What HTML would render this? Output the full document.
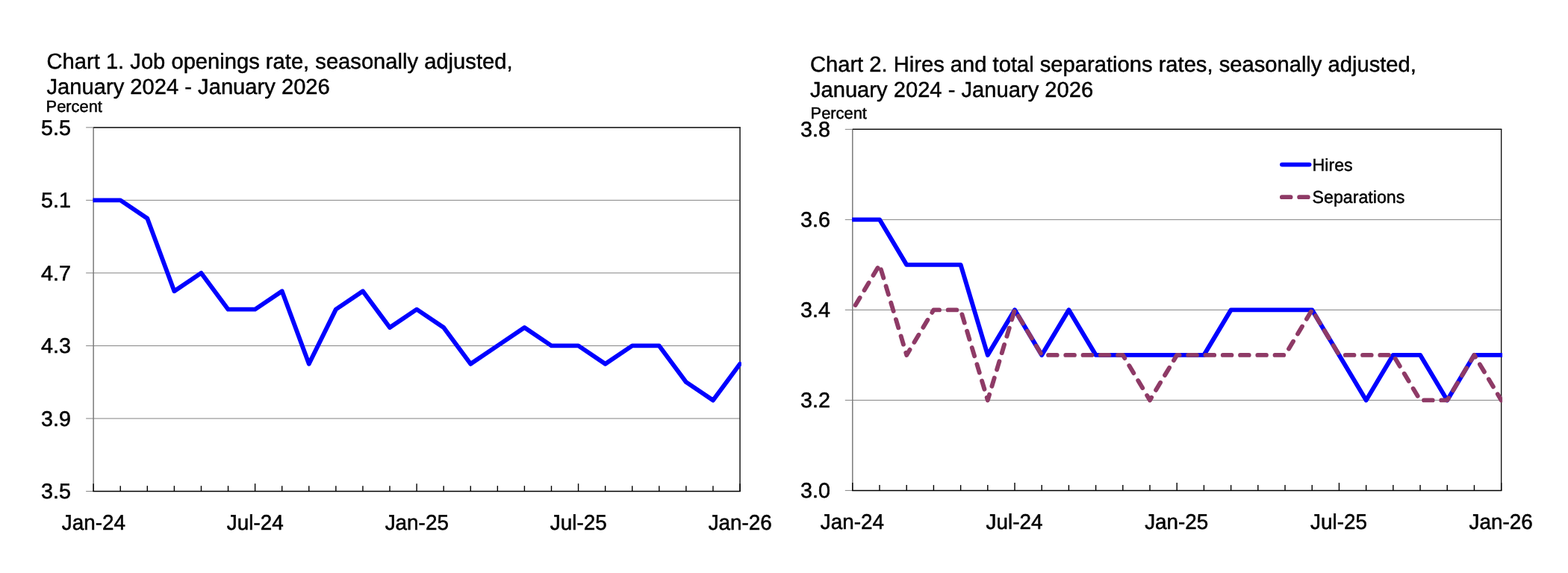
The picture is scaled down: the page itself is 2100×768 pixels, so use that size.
<!DOCTYPE html>
<html lang="en">
<head>
<meta charset="utf-8">
<title>Job openings, hires and total separations rates, seasonally adjusted</title>
<style>
html,body{margin:0;padding:0;background:#fff;}
body{width:2100px;height:768px;overflow:hidden;}
svg{display:block;}
text{font-family:"Liberation Sans",Arial,Helvetica,sans-serif;text-rendering:geometricPrecision;fill:#000;stroke:#000;stroke-width:0.45px;stroke-linejoin:round;}
.title{font-size:29.17px;}
.pct{font-size:21.875px;}
.ax{font-size:28.5px;stroke-width:0.55px;}
.leg{font-size:23.2px;}
.grid{stroke:#828282;stroke-width:1.0;}
.xtick{stroke:#000;stroke-width:1.4;}
.hires,.jo{fill:none;stroke:#0000ff;stroke-width:5.9;stroke-linejoin:round;stroke-linecap:round;}
.seps{fill:none;stroke:#8e3a66;stroke-width:5.9;stroke-linejoin:round;stroke-linecap:round;stroke-dasharray:11.63 11.63;stroke-dashoffset:15.8;}
</style>
</head>
<body>
<svg width="2100" height="768" viewBox="0 0 2100 768" role="img" aria-label="Chart 1 job openings rate and Chart 2 hires and total separations rates">
<rect width="2100" height="768" fill="#fff"/>
<g id="chart1">
<text class="title" x="62.5" y="92">Chart 1. Job openings rate, seasonally adjusted,</text>
<text class="title" x="62.5" y="126">January 2024 - January 2026</text>
<text class="pct" x="61.55" y="150">Percent</text>
<line class="grid" x1="115.15" x2="991.05" y1="268.37" y2="268.37"/>
<line class="grid" x1="115.15" x2="991.05" y1="365.89" y2="365.89"/>
<line class="grid" x1="115.15" x2="991.05" y1="463.41" y2="463.41"/>
<line class="grid" x1="115.15" x2="991.05" y1="560.93" y2="560.93"/>
<line class="grid" x1="115.15" x2="125.15" y1="170.85" y2="170.85"/>
<line class="grid" x1="115.15" x2="125.15" y1="658.45" y2="658.45"/>
<line x1="125.15" y1="170.85" x2="125.15" y2="658.45" stroke="#7a7a7a" stroke-width="1.5"/>
<line x1="125.15" y1="170.85" x2="991.85" y2="170.85" stroke="#2b2b2b" stroke-width="1.7"/>
<line x1="991.05" y1="170.85" x2="991.05" y2="658.45" stroke="#262626" stroke-width="1.6"/>
<line x1="124.45" y1="658.45" x2="991.75" y2="658.45" stroke="#000" stroke-width="1.4"/>
<line class="xtick" x1="125.15" x2="125.15" y1="648.15" y2="658.45"/>
<line class="xtick" x1="161.23" x2="161.23" y1="651.15" y2="658.45"/>
<line class="xtick" x1="197.31" x2="197.31" y1="651.15" y2="658.45"/>
<line class="xtick" x1="233.39" x2="233.39" y1="651.15" y2="658.45"/>
<line class="xtick" x1="269.47" x2="269.47" y1="651.15" y2="658.45"/>
<line class="xtick" x1="305.55" x2="305.55" y1="651.15" y2="658.45"/>
<line class="xtick" x1="341.62" x2="341.62" y1="648.15" y2="658.45"/>
<line class="xtick" x1="377.7" x2="377.7" y1="651.15" y2="658.45"/>
<line class="xtick" x1="413.78" x2="413.78" y1="651.15" y2="658.45"/>
<line class="xtick" x1="449.86" x2="449.86" y1="651.15" y2="658.45"/>
<line class="xtick" x1="485.94" x2="485.94" y1="651.15" y2="658.45"/>
<line class="xtick" x1="522.02" x2="522.02" y1="651.15" y2="658.45"/>
<line class="xtick" x1="558.1" x2="558.1" y1="648.15" y2="658.45"/>
<line class="xtick" x1="594.18" x2="594.18" y1="651.15" y2="658.45"/>
<line class="xtick" x1="630.26" x2="630.26" y1="651.15" y2="658.45"/>
<line class="xtick" x1="666.34" x2="666.34" y1="651.15" y2="658.45"/>
<line class="xtick" x1="702.42" x2="702.42" y1="651.15" y2="658.45"/>
<line class="xtick" x1="738.5" x2="738.5" y1="651.15" y2="658.45"/>
<line class="xtick" x1="774.57" x2="774.57" y1="648.15" y2="658.45"/>
<line class="xtick" x1="810.65" x2="810.65" y1="651.15" y2="658.45"/>
<line class="xtick" x1="846.73" x2="846.73" y1="651.15" y2="658.45"/>
<line class="xtick" x1="882.81" x2="882.81" y1="651.15" y2="658.45"/>
<line class="xtick" x1="918.89" x2="918.89" y1="651.15" y2="658.45"/>
<line class="xtick" x1="954.97" x2="954.97" y1="651.15" y2="658.45"/>
<line class="xtick" x1="991.05" x2="991.05" y1="648.15" y2="658.45"/>
<clipPath id="clip1"><rect x="124.45" y="170.85" width="868.4" height="487.6"/></clipPath>
<g clip-path="url(#clip1)">
<polyline class="jo" points="125.15,268.37 161.23,268.37 197.31,292.75 233.39,390.27 269.47,365.89 305.55,414.65 341.62,414.65 377.7,390.27 413.78,487.79 449.86,414.65 485.94,390.27 522.02,439.03 558.1,414.65 594.18,439.03 630.26,487.79 666.34,463.41 702.42,439.03 738.5,463.41 774.57,463.41 810.65,487.79 846.73,463.41 882.81,463.41 918.89,512.17 954.97,536.55 991.05,487.79"/>
</g>
<text class="ax" text-anchor="end" transform="translate(94.9 181) scale(1.008 1)">5.5</text>
<text class="ax" text-anchor="end" transform="translate(94.9 278) scale(1.008 1)">5.1</text>
<text class="ax" text-anchor="end" transform="translate(94.9 376) scale(1.008 1)">4.7</text>
<text class="ax" text-anchor="end" transform="translate(94.9 473) scale(1.008 1)">4.3</text>
<text class="ax" text-anchor="end" transform="translate(94.9 571) scale(1.008 1)">3.9</text>
<text class="ax" text-anchor="end" transform="translate(94.9 668) scale(1.008 1)">3.5</text>
<text class="ax" text-anchor="middle" transform="translate(125.35 710) scale(0.978 1)">Jan-24</text>
<text class="ax" text-anchor="middle" transform="translate(341.82 710) scale(0.978 1)">Jul-24</text>
<text class="ax" text-anchor="middle" transform="translate(558.3 710) scale(0.978 1)">Jan-25</text>
<text class="ax" text-anchor="middle" transform="translate(774.77 710) scale(0.978 1)">Jul-25</text>
<text class="ax" text-anchor="middle" transform="translate(991.25 710) scale(0.978 1)">Jan-26</text>
</g>
<g id="chart2">
<text class="title" x="1084.9" y="96">Chart 2. Hires and total separations rates, seasonally adjusted,</text>
<text class="title" x="1084.9" y="130">January 2024 - January 2026</text>
<text class="pct" x="1085.55" y="159">Percent</text>
<line class="grid" x1="1131.8" x2="2010.65" y1="294.36" y2="294.36"/>
<line class="grid" x1="1131.8" x2="2010.65" y1="415.38" y2="415.38"/>
<line class="grid" x1="1131.8" x2="2010.65" y1="536.39" y2="536.39"/>
<line class="grid" x1="1131.8" x2="1141.8" y1="173.35" y2="173.35"/>
<line class="grid" x1="1131.8" x2="1141.8" y1="657.4" y2="657.4"/>
<line x1="1141.8" y1="173.35" x2="1141.8" y2="657.4" stroke="#7a7a7a" stroke-width="1.5"/>
<line x1="1141.8" y1="173.35" x2="2011.33" y2="173.35" stroke="#111" stroke-width="1.5"/>
<line x1="2010.65" y1="173.35" x2="2010.65" y2="657.4" stroke="#111" stroke-width="1.35"/>
<line x1="1141.1" y1="657.4" x2="2011.35" y2="657.4" stroke="#000" stroke-width="1.5"/>
<line class="xtick" x1="1141.8" x2="1141.8" y1="647.1" y2="657.4"/>
<line class="xtick" x1="1178" x2="1178" y1="650.1" y2="657.4"/>
<line class="xtick" x1="1214.2" x2="1214.2" y1="650.1" y2="657.4"/>
<line class="xtick" x1="1250.41" x2="1250.41" y1="650.1" y2="657.4"/>
<line class="xtick" x1="1286.61" x2="1286.61" y1="650.1" y2="657.4"/>
<line class="xtick" x1="1322.81" x2="1322.81" y1="650.1" y2="657.4"/>
<line class="xtick" x1="1359.01" x2="1359.01" y1="647.1" y2="657.4"/>
<line class="xtick" x1="1395.21" x2="1395.21" y1="650.1" y2="657.4"/>
<line class="xtick" x1="1431.42" x2="1431.42" y1="650.1" y2="657.4"/>
<line class="xtick" x1="1467.62" x2="1467.62" y1="650.1" y2="657.4"/>
<line class="xtick" x1="1503.82" x2="1503.82" y1="650.1" y2="657.4"/>
<line class="xtick" x1="1540.02" x2="1540.02" y1="650.1" y2="657.4"/>
<line class="xtick" x1="1576.22" x2="1576.22" y1="647.1" y2="657.4"/>
<line class="xtick" x1="1612.43" x2="1612.43" y1="650.1" y2="657.4"/>
<line class="xtick" x1="1648.63" x2="1648.63" y1="650.1" y2="657.4"/>
<line class="xtick" x1="1684.83" x2="1684.83" y1="650.1" y2="657.4"/>
<line class="xtick" x1="1721.03" x2="1721.03" y1="650.1" y2="657.4"/>
<line class="xtick" x1="1757.24" x2="1757.24" y1="650.1" y2="657.4"/>
<line class="xtick" x1="1793.44" x2="1793.44" y1="647.1" y2="657.4"/>
<line class="xtick" x1="1829.64" x2="1829.64" y1="650.1" y2="657.4"/>
<line class="xtick" x1="1865.84" x2="1865.84" y1="650.1" y2="657.4"/>
<line class="xtick" x1="1902.04" x2="1902.04" y1="650.1" y2="657.4"/>
<line class="xtick" x1="1938.25" x2="1938.25" y1="650.1" y2="657.4"/>
<line class="xtick" x1="1974.45" x2="1974.45" y1="650.1" y2="657.4"/>
<line class="xtick" x1="2010.65" x2="2010.65" y1="647.1" y2="657.4"/>
<clipPath id="clip2"><rect x="1141.1" y="173.35" width="870.95" height="484.05"/></clipPath>
<g clip-path="url(#clip2)">
<polyline class="hires" points="1141.8,294.36 1178,294.36 1214.2,354.87 1250.41,354.87 1286.61,354.87 1322.81,475.88 1359.01,415.38 1395.21,475.88 1431.42,415.38 1467.62,475.88 1503.82,475.88 1540.02,475.88 1576.22,475.88 1612.43,475.88 1648.63,415.38 1684.83,415.38 1721.03,415.38 1757.24,415.38 1793.44,475.88 1829.64,536.39 1865.84,475.88 1902.04,475.88 1938.25,536.39 1974.45,475.88 2010.65,475.88"/>
<polyline class="seps" points="1141.8,415.38 1178,354.87 1214.2,475.88 1250.41,415.38 1286.61,415.38 1322.81,536.39 1359.01,415.38 1395.21,475.88 1431.42,475.88 1467.62,475.88 1503.82,475.88 1540.02,536.39 1576.22,475.88 1612.43,475.88 1648.63,475.88 1684.83,475.88 1721.03,475.88 1757.24,415.38 1793.44,475.88 1829.64,475.88 1865.84,475.88 1902.04,536.39 1938.25,536.39 1974.45,475.88 2010.65,536.39"/>
</g>
<text class="ax" text-anchor="end" transform="translate(1112 183) scale(1.008 1)">3.8</text>
<text class="ax" text-anchor="end" transform="translate(1112 304) scale(1.008 1)">3.6</text>
<text class="ax" text-anchor="end" transform="translate(1112 425) scale(1.008 1)">3.4</text>
<text class="ax" text-anchor="end" transform="translate(1112 546) scale(1.008 1)">3.2</text>
<text class="ax" text-anchor="end" transform="translate(1112 667) scale(1.008 1)">3.0</text>
<text class="ax" text-anchor="middle" transform="translate(1141.35 709) scale(0.978 1)">Jan-24</text>
<text class="ax" text-anchor="middle" transform="translate(1358.56 709) scale(0.978 1)">Jul-24</text>
<text class="ax" text-anchor="middle" transform="translate(1575.77 709) scale(0.978 1)">Jan-25</text>
<text class="ax" text-anchor="middle" transform="translate(1792.99 709) scale(0.978 1)">Jul-25</text>
<text class="ax" text-anchor="middle" transform="translate(2010.2 709) scale(0.978 1)">Jan-26</text>
</g>
<g id="legend">
<line class="hires" x1="1717" x2="1753.5" y1="220.6" y2="220.6" style="stroke-linecap:round;stroke-width:5.9"/>
<text class="leg" x="1757.6" y="229">Hires</text>
<line class="seps" x1="1716.9" x2="1753" y1="264.15" y2="264.15" style="stroke-dashoffset:0"/>
<text class="leg" x="1757.6" y="272">Separations</text>
</g>
</svg>
</body>
</html>
